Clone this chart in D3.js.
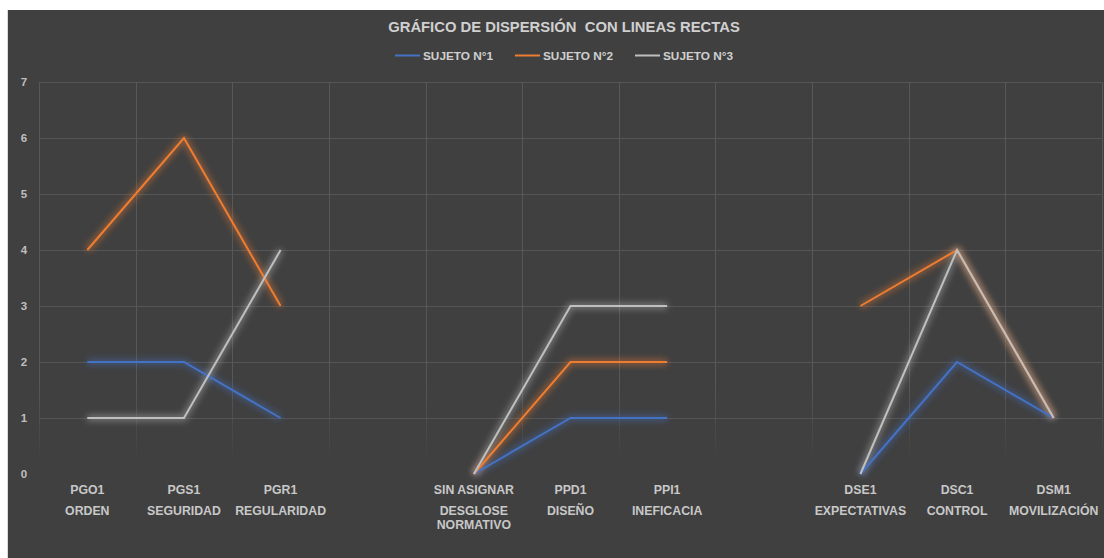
<!DOCTYPE html>
<html>
<head>
<meta charset="utf-8">
<script src="https://cdn.jsdelivr.net/npm/d3@7"></script>
<style>
html,body{margin:0;padding:0;background:#ffffff;}
svg{display:block;}
text{font-family:"Liberation Sans",Arial,sans-serif;font-weight:bold;white-space:pre;}
</style>
</head>
<body>
<svg id="chart" width="1104" height="558"></svg>
<script>
// ---- data ----
const title = "GRÁFICO DE DISPERSIÓN  CON LINEAS RECTAS";
const codes = ["PGO1","PGS1","PGR1","","SIN ASIGNAR","PPD1","PPI1","","DSE1","DSC1","DSM1"];
const names = ["ORDEN","SEGURIDAD","REGULARIDAD","","DESGLOSE\nNORMATIVO","DISEÑO","INEFICACIA","","EXPECTATIVAS","CONTROL","MOVILIZACIÓN"];
const seriesNames = ["SUJETO N°1","SUJETO N°2","SUJETO N°3"];
const sujeto1 = [2,2,1,null,0,1,1,null,0,2,1];
const sujeto2 = [4,6,3,null,0,2,2,null,3,4,1];
const sujeto3 = [1,1,4,null,0,3,3,null,0,4,1];
const yTicks = [0,1,2,3,4,5,6,7];
const colors = ["#4472C4","#ED7D31","#BFBFBF"];

const svg = d3.select("#chart");
// background
svg.append("rect").attr("x",7).attr("y",10).attr("width",1097).attr("height",548).attr("fill","#404040");
svg.append("line").attr("x1",7.5).attr("x2",7.5).attr("y1",10).attr("y2",558).attr("stroke","#d9d9d9").attr("stroke-width",1);

const idx = d3.range(codes.length);
const x = d3.scaleBand().domain(idx).range([39,1102]).padding(0);
const y = d3.scaleLinear().domain([0,7]).range([474,82]);

const defs = svg.append("defs");
const grad = defs.append("linearGradient").attr("id","vfade").attr("gradientUnits","userSpaceOnUse")
  .attr("x1",0).attr("y1",y(7)).attr("x2",0).attr("y2",462);
grad.append("stop").attr("offset","0.8").attr("stop-color","#575757").attr("stop-opacity",1);
grad.append("stop").attr("offset","1").attr("stop-color","#575757").attr("stop-opacity",0);
defs.append("filter").attr("id","glow").attr("x","-20%").attr("y","-20%").attr("width","140%").attr("height","140%")
  .append("feGaussianBlur").attr("stdDeviation",3);

// gridlines
const g = svg.append("g");
g.selectAll("line.h").data(yTicks.filter(d=>d>0)).join("line")
  .attr("x1",39).attr("x2",1102).attr("y1",d=>Math.round(y(d))+0.5).attr("y2",d=>Math.round(y(d))+0.5)
  .attr("stroke","#555555").attr("stroke-width",1);
const vx = idx.map(i=>x(i)).concat([x.range()[1]]);
g.selectAll("line.v").data(vx).join("line")
  .attr("x1",d=>Math.round(d)+0.5).attr("x2",d=>Math.round(d)+0.5)
  .attr("y1",y(7)).attr("y2",462).attr("stroke","url(#vfade)").attr("stroke-width",1);

// y labels
svg.append("g").selectAll("text").data(yTicks).join("text")
  .attr("x",24).attr("y",d=>y(d)+4).attr("text-anchor","middle")
  .attr("font-size",11.5).attr("fill","#bfbfbf").text(d=>d);

// x labels
const xl = svg.append("g");
idx.forEach(i=>{
  const cx = x(i)+x.bandwidth()/2;
  xl.append("text").attr("x",cx).attr("y",494).attr("text-anchor","middle")
    .attr("font-size",12.3).attr("fill","#c8c8c8").text(codes[i]);
  names[i].split("\n").forEach((t,k)=>{
    xl.append("text").attr("x",cx).attr("y",515+k*14).attr("text-anchor","middle")
      .attr("font-size",12.3).attr("fill","#c8c8c8").text(t);
  });
});

// lines
const line = d3.line().defined(d=>d!==null)
  .x((d,i)=>x(i)+x.bandwidth()/2).y(d=>y(d));
[sujeto1,sujeto2,sujeto3].forEach((s,k)=>{
  svg.append("path").datum(s).attr("d",line).attr("fill","none")
    .attr("stroke",colors[k]).attr("stroke-width",6).attr("stroke-opacity",0.45)
    .attr("stroke-linejoin","round").attr("filter","url(#glow)");
});
[sujeto1,sujeto2,sujeto3].forEach((s,k)=>{
  svg.append("path").datum(s).attr("d",line).attr("fill","none")
    .attr("stroke",colors[k]).attr("stroke-width",2);
});

// title
svg.append("text").attr("x",564).attr("y",32).attr("text-anchor","middle")
  .attr("font-size",14.8).attr("fill","#d0d0d0").text(title);

// legend
const legX = [395,515,635];
seriesNames.forEach((n,k)=>{
  svg.append("line").attr("x1",legX[k]).attr("x2",legX[k]+25).attr("y1",55.5).attr("y2",55.5)
    .attr("stroke",colors[k]).attr("stroke-width",2);
  svg.append("text").attr("x",legX[k]+28).attr("y",60).attr("font-size",11.8)
    .attr("fill","#d0d0d0").text(n);
});
</script>
</body>
</html>
